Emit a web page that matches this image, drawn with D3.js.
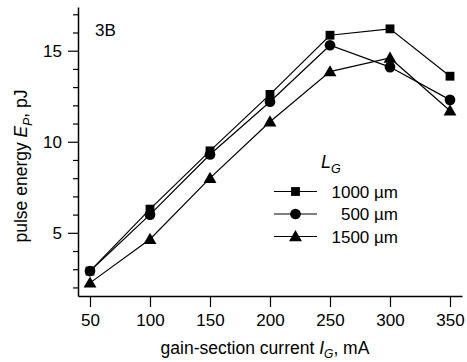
<!DOCTYPE html>
<html>
<head>
<meta charset="utf-8">
<script src="https://cdn.jsdelivr.net/npm/d3@7"></script>
<style>
  html, body { margin: 0; padding: 0; background: #fff; }
  svg { display: block; font-family: "Liberation Sans", Arial, Helvetica, sans-serif; }
</style>
</head>
<body>
<svg id="chart" width="467" height="362"></svg>
<script>
// Gain-section current (mA)
const currents = [50, 100, 150, 200, 250, 300, 350];
// Pulse energy (pJ) for each gain-section length
const energy1000 = [2.9, 6.3, 9.5, 12.6, 15.85, 16.2, 13.6];
const energy500  = [2.9, 6.0, 9.3, 12.2, 15.3, 14.1, 12.3];
const energy1500 = [2.25, 4.65, 8.0, 11.1, 13.85, 14.6, 11.7];
const seriesNames = ["1000 \u00b5m", "500 \u00b5m", "1500 \u00b5m"];
const seriesSymbols = ["square", "circle", "triangle"];
const xTicks = [50, 100, 150, 200, 250, 300, 350];
const yTicks = [5, 10, 15];
const yMinorTicks = [2, 3, 4, 6, 7, 8, 9, 11, 12, 13, 14, 16, 17];

const series = [energy1000, energy500, energy1500].map((vals, i) => ({
  name: seriesNames[i],
  symbol: seriesSymbols[i],
  points: currents.map((c, j) => ({ x: c, y: vals[j] }))
}));

const svg = d3.select("#chart");
const plotLeft = 78, plotRight = 462, plotTop = 7, plotBottom = 296;
const fontFamily = "Liberation Sans, Arial, sans-serif";

const x = d3.scaleLinear().domain([40, 360]).range([plotLeft, plotRight]);
const y = d3.scaleLinear().domain([1.53, 17.4]).range([plotBottom, plotTop]);

// Axes
svg.append("g")
  .attr("transform", `translate(0,${plotBottom})`)
  .call(d3.axisBottom(x).tickValues(xTicks).tickSize(11).tickSizeOuter(0).tickPadding(7));

svg.append("g")
  .attr("transform", `translate(${plotLeft},0)`)
  .call(d3.axisLeft(y).tickValues(yTicks).tickSize(10).tickSizeOuter(0).tickPadding(6));

svg.append("g")
  .attr("transform", `translate(${plotLeft},0)`)
  .call(d3.axisLeft(y).tickValues(yMinorTicks).tickSize(5).tickSizeOuter(0).tickFormat(""))
  .select(".domain").remove();

svg.selectAll(".domain").attr("stroke", "#000").attr("stroke-width", 1.5);
svg.selectAll(".tick line").attr("stroke", "#000").attr("stroke-width", 1.2);
svg.selectAll(".tick text").attr("font-size", 17).attr("fill", "#000")
  .attr("font-family", fontFamily);

// Axis titles
const xTitle = svg.append("text")
  .attr("x", 265).attr("y", 354)
  .attr("text-anchor", "middle")
  .attr("font-size", 17.5);
xTitle.append("tspan").text("gain-section current ");
xTitle.append("tspan").attr("font-style", "italic").text("I");
xTitle.append("tspan").attr("font-style", "italic").attr("font-size", 12).attr("dy", 4).text("G");
xTitle.append("tspan").attr("dy", -4).text(", mA");

const yTitle = svg.append("text")
  .attr("transform", "translate(27,166) rotate(-90)")
  .attr("text-anchor", "middle")
  .attr("font-size", 17.5);
yTitle.append("tspan").text("pulse energy ");
yTitle.append("tspan").attr("font-style", "italic").text("E");
yTitle.append("tspan").attr("font-style", "italic").attr("font-size", 12).attr("dy", 5).text("P");
yTitle.append("tspan").attr("dy", -5).text(", pJ");

// Panel label
svg.append("text").attr("x", 95).attr("y", 36).attr("font-size", 17).text("3B");

// Marker shapes
const symbolTypes = {
  square: d3.symbol().type(d3.symbolSquare).size(78),
  circle: d3.symbol().type(d3.symbolCircle).size(90),
  triangle: d3.symbol().type(d3.symbolTriangle).size(72)
};

const line = d3.line().x(d => x(d.x)).y(d => y(d.y));

const g = svg.append("g");
series.forEach(s => {
  g.append("path")
    .attr("d", line(s.points))
    .attr("fill", "none")
    .attr("stroke", "#000")
    .attr("stroke-width", 1.2);
});
series.forEach(s => {
  g.selectAll(null)
    .data(s.points)
    .join("path")
    .attr("transform", d => `translate(${x(d.x)},${y(d.y) + (s.symbol === "triangle" ? 1 : 0)})`)
    .attr("d", symbolTypes[s.symbol]())
    .attr("fill", "#000");
});

// Legend
const legendTitle = svg.append("text")
  .attr("x", 321).attr("y", 168)
  .attr("font-size", 18)
  .attr("font-style", "italic");
legendTitle.append("tspan").text("L");
legendTitle.append("tspan").attr("font-size", 12.5).attr("dy", 5).text("G");

const legendRows = [191.5, 214, 236.5];
series.forEach((s, i) => {
  const ly = legendRows[i];
  const row = svg.append("g");
  row.append("line")
    .attr("x1", 274).attr("x2", 317)
    .attr("y1", ly).attr("y2", ly)
    .attr("stroke", "#000").attr("stroke-width", 1.2);
  row.append("path")
    .attr("transform", `translate(295.5,${ly + (s.symbol === "triangle" ? 1 : 0)})`)
    .attr("d", symbolTypes[s.symbol]())
    .attr("fill", "#000");
  row.append("text")
    .attr("x", 398).attr("y", ly + 6)
    .attr("text-anchor", "end")
    .attr("font-size", 17)
    .text(s.name);
});
</script>
</body>
</html>
